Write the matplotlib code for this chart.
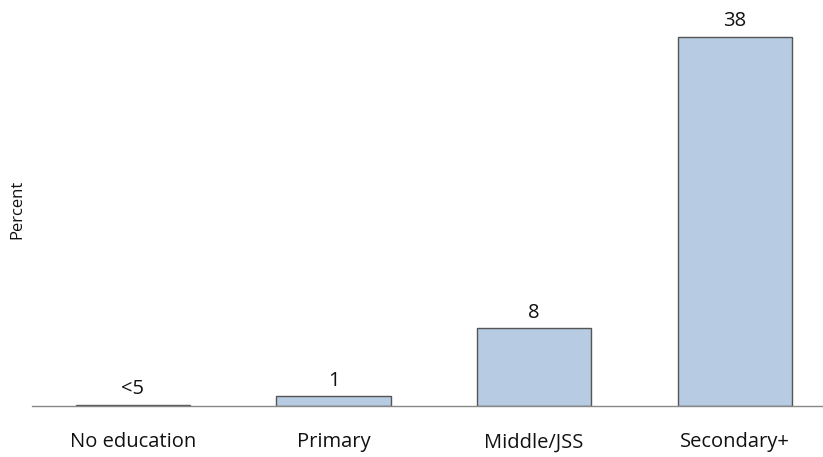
import matplotlib
matplotlib.use("Agg")
import matplotlib.pyplot as plt

categories = ["No education", "Primary", "Middle/JSS", "Secondary+"]
values = [0.1, 1, 8, 38]
value_labels = ["<5", "1", "8", "38"]

plt.rcParams['font.family'] = ['Open Sans', 'DejaVu Sans']

W, H = 823, 457
fig = plt.figure(figsize=(W / 100, H / 100), dpi=100)
ax = fig.add_axes([32 / W, (H - 406) / H, (W - 32) / W, (406 - 10) / H])

x = list(range(len(categories)))
ax.bar(x, values, width=0.57, color="#b7cbe2", edgecolor="#555555", linewidth=1)
for xi, v, lab in zip(x, values, value_labels):
    ax.annotate(lab, (xi, v), xytext=(0, 4), textcoords="offset points",
                ha="center", va="bottom", fontsize=14.5, color="#111111")

ax.set_xlim(-0.503, 3.44)
ax.set_ylim(0, 40.78)
ax.set_xticks(x)
ax.set_xticklabels(categories, fontsize=14.5, color="#111111")
ax.tick_params(axis="x", length=0, pad=19)
ax.set_yticks([])
for s in ["top", "right", "left"]:
    ax.spines[s].set_visible(False)
ax.spines["bottom"].set_color("#888888")
ax.spines["bottom"].set_linewidth(1)

fig.text(17 / W, 1 - 209 / H, "Percent", rotation=90, ha="center", va="center",
         fontsize=12, color="#111111")

fig.savefig("out.png", dpi=100)
